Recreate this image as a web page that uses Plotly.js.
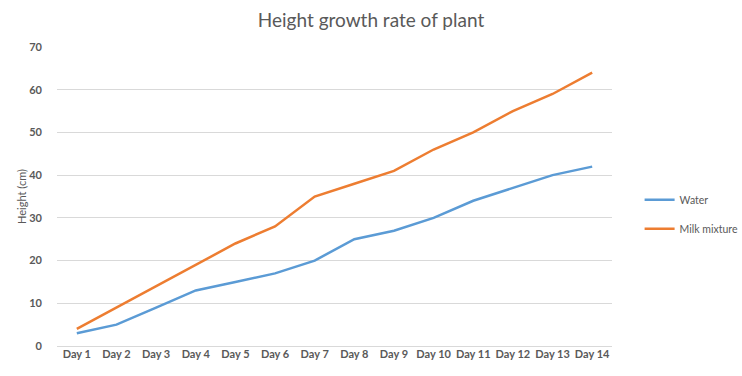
<!DOCTYPE html>
<html>
<head>
<meta charset="utf-8">
<script src="https://cdn.plot.ly/plotly-3.0.1.min.js"></script>
<style>html,body{margin:0;padding:0;background:#fff;}#chart{width:742px;height:376px;}</style>
</head>
<body>
<div id="chart"></div>
<script>
var days = ["Day 1","Day 2","Day 3","Day 4","Day 5","Day 6","Day 7","Day 8","Day 9","Day 10","Day 11","Day 12","Day 13","Day 14"];
var water = [3, 5, 9, 13, 15, 17, 20, 25, 27, 30, 34, 37, 40, 42];
var milk = [4, 9, 14, 19, 24, 28, 35, 38, 41, 46, 50, 55, 59, 64];
var yTicks = [0, 10, 20, 30, 40, 50, 60, 70];

var font = "Lato, 'Open Sans', sans-serif";
var traces = [
  {x: days, y: water, name: "Water", type: "scatter", mode: "lines", line: {color: "#5B9BD5", width: 2.5}, legendgroup: "a"},
  {x: days, y: milk, name: "Milk mixture", type: "scatter", mode: "lines", line: {color: "#ED7D31", width: 2.5}, legendgroup: "b"}
];
var layout = {
  width: 742, height: 376,
  margin: {l: 57, r: 130, t: 47, b: 30},
  paper_bgcolor: "#fff", plot_bgcolor: "#fff",
  title: {text: "Height growth rate of plant", font: {family: font, size: 19, color: "#595959"}, x: 0.5, xanchor: "center", y: 0.945, yanchor: "middle"},
  xaxis: {type: "category", range: [-0.5, 13.5], showgrid: false, showline: false, zeroline: false, ticks: "",
          tickfont: {family: font, size: 11, color: "#595959", weight: "bold"}, fixedrange: true},
  yaxis: {range: [0, 70], tickvals: yTicks, showgrid: true, gridcolor: "#d9d9d9", gridwidth: 1, zeroline: true, zerolinecolor: "#d9d9d9", zerolinewidth: 1,
          showline: false, ticks: "", ticklen: 0, tickfont: {family: font, size: 11, color: "#595959", weight: "bold"}, ticklabelstandoff: 14,
          title: {text: "Height (cm)", font: {family: font, size: 11, color: "#595959"}, standoff: 0}},
  showlegend: true,
  legend: {x: 0.862, xanchor: "left", y: 0.441, yanchor: "middle", xref: "container", font: {family: font, size: 10.5, color: "#595959"},
           itemwidth: 30, tracegroupgap: 10, bgcolor: "rgba(0,0,0,0)"}
};
Plotly.newPlot("chart", traces, layout, {displayModeBar: false, staticPlot: true});
</script>
</body>
</html>
